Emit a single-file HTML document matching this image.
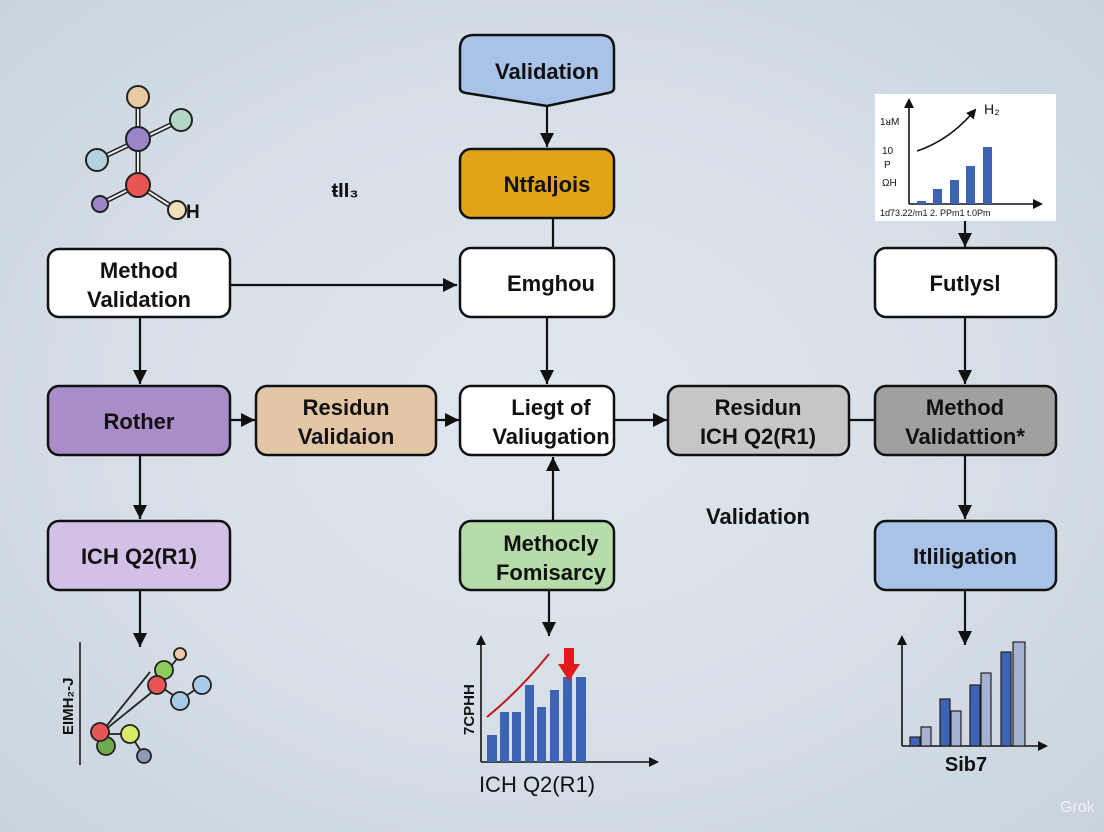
<!DOCTYPE html>
<html><head><meta charset="utf-8"><style>
html,body{margin:0;padding:0;width:1104px;height:832px;overflow:hidden}
body{background:radial-gradient(ellipse at center,#e0e7ee 0%,#d5dee6 60%,#c8d3dd 100%)}
text{font-family:"Liberation Sans",sans-serif;fill:#111}
</style></head><body>
<svg width="1104" height="832" viewBox="0 0 1104 832" xmlns="http://www.w3.org/2000/svg">
<defs><marker id="a" markerWidth="10" markerHeight="10" refX="8" refY="5" orient="auto" markerUnits="userSpaceOnUse"><path d="M0,0 L10,5 L0,10 z" fill="#111"/></marker>
<marker id="b" markerWidth="16" markerHeight="16" refX="14" refY="8" orient="auto" markerUnits="userSpaceOnUse"><path d="M0,1 L14,8 L0,15 z" fill="#111"/></marker></defs>
<g stroke="#111" stroke-width="2.2" fill="none">
<line x1="547" y1="105" x2="547" y2="147" marker-end="url(#b)"/>
<line x1="553" y1="218" x2="553" y2="248"/>
<line x1="230" y1="285" x2="457" y2="285" marker-end="url(#b)"/>
<line x1="547" y1="317" x2="547" y2="384" marker-end="url(#b)"/>
<line x1="553" y1="521" x2="553" y2="457" marker-end="url(#b)"/>
<line x1="140" y1="317" x2="140" y2="384" marker-end="url(#b)"/>
<line x1="230" y1="420" x2="255" y2="420" marker-end="url(#b)"/>
<line x1="436" y1="420" x2="459" y2="420" marker-end="url(#b)"/>
<line x1="614" y1="420" x2="667" y2="420" marker-end="url(#b)"/>
<line x1="849" y1="420" x2="875" y2="420"/>
<line x1="140" y1="455" x2="140" y2="519" marker-end="url(#b)"/>
<line x1="140" y1="590" x2="140" y2="647" marker-end="url(#b)"/>
<line x1="549" y1="590" x2="549" y2="636" marker-end="url(#b)"/>
<line x1="965" y1="221" x2="965" y2="247" marker-end="url(#b)"/>
<line x1="965" y1="317" x2="965" y2="384" marker-end="url(#b)"/>
<line x1="965" y1="455" x2="965" y2="519" marker-end="url(#b)"/>
<line x1="965" y1="590" x2="965" y2="645" marker-end="url(#b)"/>
</g>
<g stroke="#111" stroke-width="2.5">
<path d="M474,35 H600 Q614,35 614,49 V88 Q614,92 608,93 L547,106 L466,93 Q460,92 460,88 V49 Q460,35 474,35z" fill="#a9c3e8"/>
<rect x="460" y="149" width="154" height="69" rx="11" fill="#e1a418"/>
<rect x="460" y="248" width="154" height="69" rx="11" fill="#fff"/>
<rect x="48" y="249" width="182" height="68" rx="11" fill="#fff"/>
<rect x="875" y="248" width="181" height="69" rx="11" fill="#fff"/>
<rect x="48" y="386" width="182" height="69" rx="11" fill="#a98cc8"/>
<rect x="256" y="386" width="180" height="69" rx="11" fill="#e3c6a6"/>
<rect x="460" y="386" width="154" height="69" rx="11" fill="#fff"/>
<rect x="668" y="386" width="181" height="69" rx="11" fill="#c6c6c6"/>
<rect x="875" y="386" width="181" height="69" rx="11" fill="#a0a0a0"/>
<rect x="48" y="521" width="182" height="69" rx="11" fill="#d3c0e6"/>
<rect x="460" y="521" width="154" height="69" rx="11" fill="#b5dcaa"/>
<rect x="875" y="521" width="181" height="69" rx="11" fill="#a9c3e8"/>
</g>
<g font-size="22" font-weight="bold" text-anchor="middle">
<text x="547" y="79">Validation</text>
<text x="547" y="192">Ntfaljois</text>
<text x="551" y="291">Emghou</text>
<text x="139" y="278">Method</text><text x="139" y="307">Validation</text>
<text x="965" y="291">Futlysl</text>
<text x="139" y="429">Rother</text>
<text x="346" y="415">Residun</text><text x="346" y="444">Validaion</text>
<text x="551" y="415">Liegt of</text><text x="551" y="444">Valiugation</text>
<text x="758" y="415">Residun</text><text x="758" y="444">ICH Q2(R1)</text>
<text x="965" y="415">Method</text><text x="965" y="444">Validattion*</text>
<text x="139" y="564">ICH Q2(R1)</text>
<text x="551" y="551">Methocly</text><text x="551" y="580">Fomisarcy</text>
<text x="965" y="564">Itliligation</text>
<text x="758" y="524">Validation</text>
<text x="345" y="197" font-size="20">ŧII₃</text>
<text x="537" y="792" font-weight="normal">ICH Q2(R1)</text>
<text x="966" y="771" font-size="20">Sib7</text>
</g>
<!-- molecule top-left -->
<g stroke="#222" stroke-width="2">
<line x1="138" y1="98" x2="138" y2="185" stroke-width="5"/><line x1="138" y1="98" x2="138" y2="185" stroke="#eee" stroke-width="2"/>
<line x1="97" y1="160" x2="181" y2="120" stroke-width="5"/><line x1="97" y1="160" x2="181" y2="120" stroke="#eee" stroke-width="2"/>
<line x1="100" y1="204" x2="138" y2="185" stroke-width="5"/><line x1="100" y1="204" x2="138" y2="185" stroke="#eee" stroke-width="2"/>
<line x1="138" y1="185" x2="177" y2="210" stroke-width="5"/><line x1="138" y1="185" x2="177" y2="210" stroke="#eee" stroke-width="2"/>
<circle cx="138" cy="97" r="11" fill="#e8c9a0"/>
<circle cx="181" cy="120" r="11" fill="#b3d6c6"/>
<circle cx="138" cy="139" r="12" fill="#9a86c8"/>
<circle cx="97" cy="160" r="11" fill="#b5d2df"/>
<circle cx="138" cy="185" r="12" fill="#e85555"/>
<circle cx="100" cy="204" r="8" fill="#9a86c8"/>
<circle cx="177" cy="210" r="9" fill="#efe0b8"/>
</g>
<text x="186" y="218" font-size="19" font-weight="bold">H</text>
<!-- top-right chart -->
<rect x="875" y="94" width="181" height="127" fill="#fff"/>
<g stroke="#111" stroke-width="1.6" fill="none">
<line x1="909" y1="204" x2="909" y2="100" marker-end="url(#a)"/>
<line x1="909" y1="204" x2="1041" y2="204" marker-end="url(#a)"/>
<path d="M917,151 Q950,140 975,110" marker-end="url(#a)"/>
</g>
<g fill="#3e63b4"><rect x="917" y="201" width="9" height="3"/><rect x="933" y="189" width="9" height="15"/><rect x="950" y="180" width="9" height="24"/><rect x="966" y="166" width="9" height="38"/><rect x="983" y="147" width="9" height="57"/></g>
<g font-size="10"><text x="880" y="125">1ᴚM</text><text x="882" y="154">10</text><text x="884" y="168">P</text><text x="882" y="186">ΩH</text><text x="880" y="216" font-size="9">1ɗ73.22/m1 2. PPm1 t.0Pm</text><text x="984" y="114" font-size="14">H₂</text></g>
<!-- bottom-left molecule -->
<line x1="80" y1="642" x2="80" y2="765" stroke="#111" stroke-width="1.5"/>
<text x="0" y="0" font-size="15" font-weight="bold" transform="translate(73,735) rotate(-90)">EIMH₂-J</text>
<g stroke="#222" stroke-width="1.8">
<line x1="100" y1="734" x2="150" y2="672"/><line x1="100" y1="734" x2="157" y2="688"/>
<line x1="157" y1="684" x2="180" y2="655"/><line x1="157" y1="684" x2="180" y2="700"/><line x1="180" y1="700" x2="202" y2="685"/>
<line x1="100" y1="734" x2="130" y2="734"/><line x1="130" y1="734" x2="144" y2="756"/>
<circle cx="180" cy="654" r="6" fill="#f0c9a8"/>
<circle cx="164" cy="670" r="9" fill="#8fcb5c"/>
<circle cx="157" cy="685" r="9" fill="#e85555"/>
<circle cx="202" cy="685" r="9" fill="#a8cbea"/>
<circle cx="180" cy="701" r="9" fill="#a8cbea"/>
<circle cx="106" cy="746" r="9" fill="#6faa4c"/>
<circle cx="100" cy="732" r="9" fill="#e85555"/>
<circle cx="130" cy="734" r="9" fill="#d8ec6a"/>
<circle cx="144" cy="756" r="7" fill="#8c9ab8"/>
</g>
<!-- bottom-middle chart -->
<g stroke="#111" stroke-width="1.6" fill="none">
<line x1="481" y1="762" x2="481" y2="637" marker-end="url(#a)"/>
<line x1="481" y1="762" x2="657" y2="762" marker-end="url(#a)"/>
</g>
<g fill="#3e63b4"><rect x="487" y="735" width="10" height="27"/><rect x="500" y="712" width="9" height="50"/><rect x="512" y="712" width="9" height="50"/><rect x="525" y="685" width="9" height="77"/><rect x="537" y="707" width="9" height="55"/><rect x="550" y="690" width="9" height="72"/><rect x="563" y="677" width="9" height="85"/><rect x="576" y="677" width="10" height="85"/></g>
<path d="M487,717 Q520,690 549,654" stroke="#c0161c" stroke-width="2" fill="none"/>
<path d="M564,648 h10 v16 h6 l-11,17 l-11,-17 h6z" fill="#e01b1b"/>
<text x="0" y="0" font-size="15" font-weight="bold" transform="translate(474,735) rotate(-90)">7CPHH</text>
<!-- bottom-right chart -->
<g stroke="#111" stroke-width="1.6" fill="none">
<line x1="902" y1="746" x2="902" y2="637" marker-end="url(#a)"/>
<line x1="902" y1="746" x2="1046" y2="746" marker-end="url(#a)"/>
</g>
<g stroke="#222" stroke-width="1.2">
<rect x="910" y="737" width="10" height="9" fill="#3e63b4"/><rect x="921" y="727" width="10" height="19" fill="#a6b0d0"/>
<rect x="940" y="699" width="10" height="47" fill="#3e63b4"/><rect x="951" y="711" width="10" height="35" fill="#a6b0d0"/>
<rect x="970" y="685" width="10" height="61" fill="#3e63b4"/><rect x="981" y="673" width="10" height="73" fill="#a6b0d0"/>
<rect x="1001" y="652" width="10" height="94" fill="#3e63b4"/><rect x="1013" y="642" width="12" height="104" fill="#a6b0d0"/>
</g>
<text x="1060" y="812" font-size="16" style="fill:#eef2f5">Grok</text>
</svg>
</body></html>
